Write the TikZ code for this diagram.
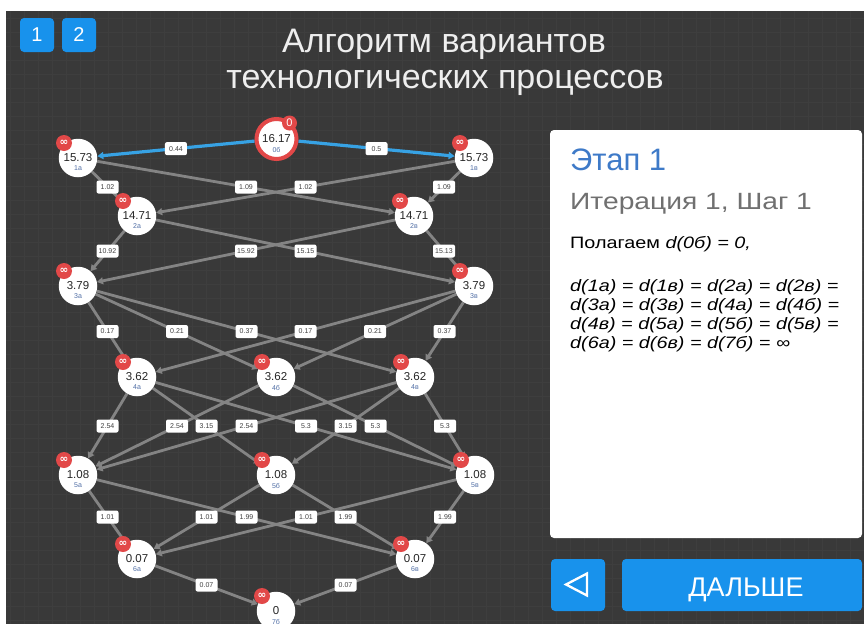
\documentclass[tikz,border=0pt]{standalone}
\usepackage{fontspec}
\setmainfont{Liberation Sans}
\newfontfamily\dejavu{DejaVu Sans}
\newfontfamily\panelfont[FakeStretch=1.2]{Liberation Sans}
\usetikzlibrary{arrows.meta}
\pgfdeclarelayer{bglayer}
\pgfdeclarelayer{edgelayer}
\pgfdeclarelayer{labellayer}
\pgfsetlayers{bglayer,edgelayer,labellayer,main}
\definecolor{bg}{RGB}{57,57,57}
\definecolor{gridc}{RGB}{62,62,62}
\definecolor{edgec}{RGB}{132,132,132}
\definecolor{bluee}{RGB}{55,162,228}
\definecolor{btnblue}{RGB}{24,146,236}
\definecolor{badgered}{RGB}{226,72,72}
\definecolor{sublab}{RGB}{80,110,165}
\definecolor{etap}{RGB}{62,122,200}
\definecolor{iter}{RGB}{112,112,112}
\definecolor{titlec}{RGB}{238,238,238}
\newcommand{\mkvnode}[5]{%
  \node[vnode] (#1) at (#2,#3) {};
  \node[valtxt] (#1v) at (#1.center) {#4};
  \node[subtxt] (#1s) at ([yshift=-10.5pt]#1.center) {#5};
  \node[badge] (#1b) at ([xshift=-14pt,yshift=15pt]#1.center) {\dejavu\bfseries ∞};
}
\begin{document}
\begin{tikzpicture}[x=1pt,y=-1pt,
  vnode/.style={circle,fill=white,minimum size=38.5pt,inner sep=0pt},
  valtxt/.style={inner sep=0pt,font=\fontsize{11.5}{11.5}\selectfont,text=black!85},
  subtxt/.style={inner sep=0pt,font=\fontsize{7}{7}\selectfont,text=sublab},
  badge/.style={circle,fill=badgered,minimum size=16pt,inner sep=0pt,text=white,font=\fontsize{10.5}{10.5}\selectfont},
  edgeline/.style={draw=edgec,line width=2.8pt,-{Triangle[length=6pt,width=7pt]}},
  blueline/.style={draw=bluee,line width=3.2pt,-{Triangle[length=6pt,width=7pt]}},
  elabel/.style={fill=white,rounded corners=2pt,inner sep=0pt,minimum width=22pt,minimum height=13pt,font=\fontsize{7}{7}\selectfont,text=black!75},
  btn/.style={fill=btnblue,rounded corners=4pt,inner sep=0pt,text=white},
  ptext/.style={anchor=base west,inner sep=0pt},
]
\useasboundingbox (0,0) rectangle (864,624);
\begin{pgfonlayer}{bglayer}
\fill[white] (0,0) rectangle (864,624);
\fill[bg] (6,11) rectangle (864,624);
\foreach \gx in {10,24,...,864} \draw[gridc,line width=0.6pt] (\gx,11) -- (\gx,624);
\foreach \gy in {18,32,...,624} \draw[gridc,line width=0.6pt] (6,\gy) -- (864,\gy);
\end{pgfonlayer}

% top buttons
\node[btn,minimum width=34pt,minimum height=34pt,font=\fontsize{20}{20}\selectfont] (b1) at (37,35) {1};
\node[btn,minimum width=34pt,minimum height=34pt,font=\fontsize{20}{20}\selectfont] (b2) at (79,35) {2};

% title
\node[anchor=base,inner sep=0pt,text=titlec,font=\fontsize{34}{34}\selectfont] (t1) at (444,52) {Алгоритм вариантов};
\node[anchor=base,inner sep=0pt,text=titlec,font=\fontsize{34}{34}\selectfont] (t2) at (445,88) {технологических процессов};

% nodes
\node[vnode,draw=badgered,line width=4pt,minimum size=40pt] (n0b) at (276.5,139) {};
\node[valtxt] (n0bv) at (n0b.center) {16.17};
\node[subtxt] (n0bs) at ([yshift=-10.5pt]n0b.center) {0б};
\node[badge,minimum size=15pt,font=\fontsize{11}{11}\selectfont] (n0bb) at ([xshift=13pt,yshift=16pt]n0b.center) {0};

\mkvnode{n1a}{78}{158}{15.73}{1а}
\mkvnode{n1v}{474}{158}{15.73}{1в}
\mkvnode{n2a}{137}{216}{14.71}{2а}
\mkvnode{n2v}{414}{216}{14.71}{2в}
\mkvnode{n3a}{78}{286}{3.79}{3а}
\mkvnode{n3v}{474}{286}{3.79}{3в}
\mkvnode{n4a}{137}{377}{3.62}{4а}
\mkvnode{n4b}{276}{377}{3.62}{4б}
\mkvnode{n4v}{415}{377}{3.62}{4в}
\mkvnode{n5a}{78}{475}{1.08}{5а}
\mkvnode{n5b}{276}{475}{1.08}{5б}
\mkvnode{n5v}{475}{475}{1.08}{5в}
\mkvnode{n6a}{137}{559}{0.07}{6а}
\mkvnode{n6v}{415}{559}{0.07}{6в}
\mkvnode{n7b}{276}{611}{0}{7б}

% edges
\begin{pgfonlayer}{edgelayer}
\draw[blueline] (n0b) -- (n1a);
\draw[blueline] (n0b) -- (n1v);
\foreach \s/\t in {n1a/n2a,n1a/n2v,n1v/n2a,n1v/n2v,
  n2a/n3a,n2v/n3a,n2a/n3v,n2v/n3v,
  n3a/n4a,n3a/n4b,n3a/n4v,n3v/n4a,n3v/n4b,n3v/n4v,
  n4a/n5a,n4b/n5a,n4v/n5a,n4a/n5b,n4v/n5b,n4a/n5v,n4b/n5v,n4v/n5v,
  n5a/n6a,n5b/n6a,n5v/n6a,n5a/n6v,n5b/n6v,n5v/n6v,
  n6a/n7b,n6v/n7b}
  \draw[edgeline] (\s) -- (\t);
\end{pgfonlayer}

% edge labels
\begin{pgfonlayer}{labellayer}
\foreach \s/\t/\w [count=\i] in {n0b/n1a/0.44,n0b/n1v/0.5,
  n1a/n2a/1.02,n1a/n2v/1.09,n1v/n2a/1.02,n1v/n2v/1.09,
  n2a/n3a/10.92,n2v/n3a/15.92,n2a/n3v/15.15,n2v/n3v/15.13,
  n3a/n4a/0.17,n3a/n4b/0.21,n3a/n4v/0.37,n3v/n4a/0.17,n3v/n4b/0.21,n3v/n4v/0.37,
  n4a/n5a/2.54,n4b/n5a/2.54,n4v/n5a/2.54,n4a/n5b/3.15,n4v/n5b/3.15,n4a/n5v/5.3,n4b/n5v/5.3,n4v/n5v/5.3,
  n5a/n6a/1.01,n5b/n6a/1.01,n5v/n6a/1.01,n5a/n6v/1.99,n5b/n6v/1.99,n5v/n6v/1.99,
  n6a/n7b/0.07,n6v/n7b/0.07}
  \path (\s) -- (\t) node[elabel,midway] (l\i) {\w};
\end{pgfonlayer}

% right panel
\fill[white,rounded corners=4pt] (550,130) rectangle (862,538);
\node[ptext,text=etap,font=\fontsize{31}{31}\selectfont] (p1) at (570,170) {Этап 1};
\node[ptext,text=iter,font=\panelfont\fontsize{23.5}{23.5}\selectfont] (p2) at (570,209) {Итерация 1, Шаг 1};
\node[ptext,text=black,font=\panelfont\fontsize{16.5}{16.5}\selectfont] (p3) at (570,248) {Полагаем \textit{d(0б) = 0,}};
\node[ptext,text=black,font=\panelfont\itshape\fontsize{16.5}{16.5}\selectfont] (p4) at (570,291) {d(1а) = d(1в) = d(2а) = d(2в) =};
\node[ptext,text=black,font=\panelfont\itshape\fontsize{16.5}{16.5}\selectfont] (p5) at (570,310) {d(3а) = d(3в) = d(4а) = d(4б) =};
\node[ptext,text=black,font=\panelfont\itshape\fontsize{16.5}{16.5}\selectfont] (p6) at (570,329) {d(4в) = d(5а) = d(5б) = d(5в) =};
\node[ptext,text=black,font=\panelfont\itshape\fontsize{16.5}{16.5}\selectfont] (p7) at (570,348) {d(6а) = d(6в) = d(7б) = ∞};

% bottom buttons
\node[btn,minimum width=54pt,minimum height=52pt] (back) at (578,585) {};
\draw[white,line width=2.3pt,line join=miter] (566,584.5) -- (587,573.5) -- (587,595.5) -- cycle;
\node[btn,minimum width=240pt,minimum height=52pt] (next) at (742,585) {};
\node[anchor=base,inner sep=0pt,text=white,font=\fontsize{27}{27}\selectfont] (nextt) at (746,596) {ДАЛЬШЕ};
\end{tikzpicture}
\end{document}
